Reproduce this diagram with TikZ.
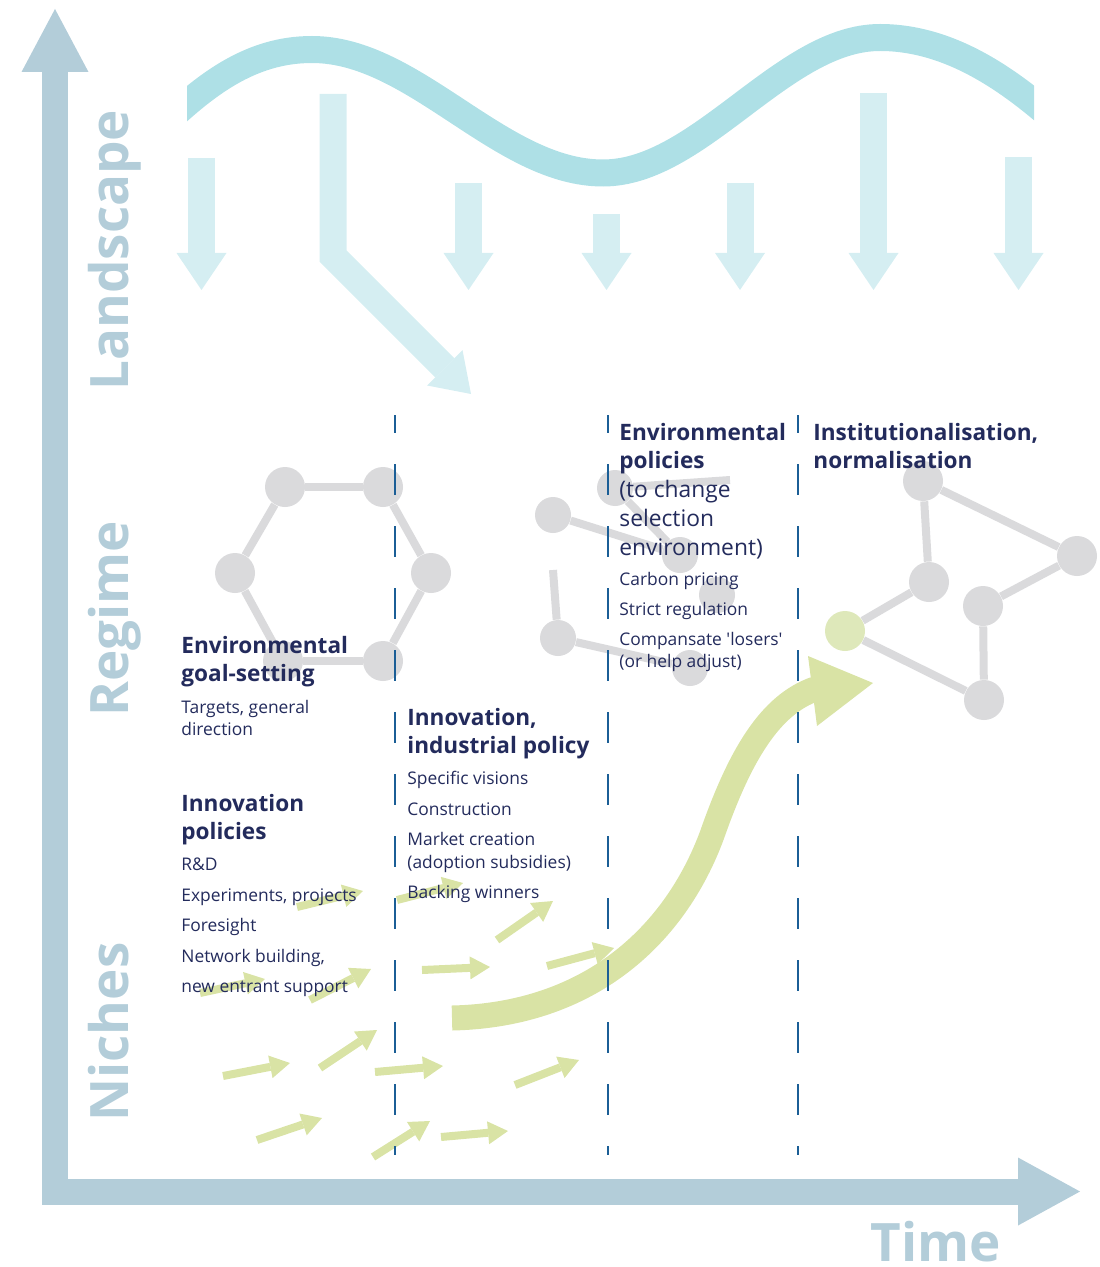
\documentclass[tikz,border=0pt]{standalone}
\usepackage{fontspec}
\setmainfont{Open Sans}
\usetikzlibrary{arrows.meta}
\definecolor{axiscol}{RGB}{179,205,217}
\definecolor{wavecol}{RGB}{174,224,230}
\definecolor{downcol}{RGB}{213,238,242}
\definecolor{netcol}{RGB}{218,218,220}
\definecolor{greencol}{RGB}{217,227,165}
\definecolor{greennode}{RGB}{222,232,186}
\definecolor{navy}{RGB}{35,43,92}
\definecolor{dashcol}{RGB}{27,94,150}
\begin{document}
\begin{tikzpicture}[x=0.5pt,y=-0.5pt,
  axisline/.style={draw=axiscol, line width=13pt},
  wave/.style={draw=wavecol, line width=13.5pt},
  downarrow/.style={draw=downcol, line width=13.5pt, line join=miter,
     -{Triangle[length=18.5pt,width=25pt,line width=0pt]}},
  netedge/.style={draw=netcol, line width=4pt},
  netnode/.style={circle, fill=netcol, minimum size=20pt, inner sep=0pt},
  smallnode/.style={circle, fill=netcol, minimum size=18pt, inner sep=0pt},
  garrow/.style={draw=greencol, line width=4pt,
     -{Triangle[length=10pt,width=11.5pt,line width=0pt]}},
  dashline/.style={draw=dashcol, line width=1pt, dash pattern=on 15.5pt off 15.5pt, dash phase=6.5pt},
  titletext/.style={anchor=base west, inner sep=0pt, text=navy,
     font=\fontsize{11.3}{14}\selectfont\bfseries},
  bodytext/.style={anchor=base west, inner sep=0pt, text=navy,
     font=\fontsize{8.7}{11}\selectfont},
  midtext/.style={anchor=base west, inner sep=0pt, text=navy,
     font=\fontsize{11.4}{14}\selectfont},
  biglabel/.style={anchor=base west, inner sep=0pt, text=axiscol,
     font=\fontsize{26.5}{30}\selectfont\bfseries}
]
\useasboundingbox (0,0) rectangle (1099,1267);

% ---------- axes ----------
\coordinate (vbot) at (55,1204.5);
\coordinate (vtop) at (55,9);
\coordinate (hleft) at (42,1191.5);
\coordinate (hright) at (1080,1191.5);
\draw[axisline, -{Triangle[length=31.5pt,width=33.5pt,line width=0pt]}] (vbot) -- (vtop);
\draw[axisline, -{Triangle[length=31pt,width=34pt,line width=0pt]}] (hleft) -- (hright);

% ---------- landscape wave ----------
\begin{scope}
  \clip (187,0) rectangle (1034,300);
  \draw[wave] (160,128) .. controls (205,85) and (250,49.5) .. (312,49.5)
     .. controls (415,49.5) and (500,173) .. (603,173)
     .. controls (700,173) and (783,37.5) .. (880,37.5)
     .. controls (950,37.5) and (1010,80) .. (1060,125);
\end{scope}

% ---------- landscape pressure arrows ----------
\coordinate (d1a) at (201.5,158);  \coordinate (d1b) at (201.5,290);
\coordinate (d3a) at (468.5,183);  \coordinate (d3b) at (468.5,290);
\coordinate (d4a) at (606.5,214);  \coordinate (d4b) at (606.5,290);
\coordinate (d5a) at (740,183);    \coordinate (d5b) at (740,290);
\coordinate (d6a) at (873.5,93);   \coordinate (d6b) at (873.5,290);
\coordinate (d7a) at (1018.5,157); \coordinate (d7b) at (1018.5,290);
\coordinate (bta) at (333,94); \coordinate (btb) at (333,256); \coordinate (btc) at (471,394);
\draw[downarrow] (d1a) -- (d1b);
\draw[downarrow] (d3a) -- (d3b);
\draw[downarrow] (d4a) -- (d4b);
\draw[downarrow] (d5a) -- (d5b);
\draw[downarrow] (d6a) -- (d6b);
\draw[downarrow] (d7a) -- (d7b);
\draw[downarrow] (bta) -- (btb) -- (btc);

% ---------- regime networks ----------
% hexagon
\node[netnode] (h1) at (285,487) {};
\node[netnode] (h2) at (383,487) {};
\node[netnode] (h3) at (431,573) {};
\node[netnode] (h4) at (383,661) {};
\node[netnode] (h5) at (283,661) {};
\node[netnode] (h6) at (235,573) {};
\draw[netedge] (h1) -- (h2);
\draw[netedge] (h2) -- (h3);
\draw[netedge] (h3) -- (h4);
\draw[netedge] (h4) -- (h5);
\draw[netedge] (h5) -- (h6);
\draw[netedge] (h6) -- (h1);
% broken middle network
\node[smallnode] (m1) at (615,488) {};
\node[smallnode] (m2) at (553,515) {};
\node[smallnode] (m3) at (680,555) {};
\node[smallnode] (m4) at (717,595) {};
\node[smallnode] (m5) at (558,638) {};
\node[smallnode] (m6) at (690,668) {};
\coordinate (ms1) at (730,480);
\coordinate (ms2) at (553,570);
\draw[netedge] (m1) -- (ms1);
\draw[netedge] (m1) -- (m3);
\draw[netedge] (m2) -- (m3);
\draw[netedge] (ms2) -- (m5);
\draw[netedge] (m5) -- (m6);
% new network
\node[netnode] (r1) at (923,481) {};
\node[netnode] (r2) at (1077,556) {};
\node[netnode] (r3) at (929,582) {};
\node[netnode] (r4) at (983,606) {};
\node[netnode, fill=greennode] (r5) at (845,631) {};
\node[netnode] (r6) at (984,700) {};
\draw[netedge] (r1) -- (r2);
\draw[netedge] (r1) -- (r3);
\draw[netedge] (r3) -- (r5);
\draw[netedge] (r5) -- (r6);
\draw[netedge] (r6) -- (r4);
\draw[netedge] (r4) -- (r2);

% ---------- niche arrows ----------
\draw[garrow] (297,907) -- (363,891);
\draw[garrow] (397,900) -- (463,883);
\draw[garrow] (497,940) -- (553,901);
\draw[garrow] (422,970) -- (490,967);
\draw[garrow] (547,966) -- (614,948);
\draw[garrow] (200,993) -- (265,979);
\draw[garrow] (310,1000) -- (371,969);
\draw[garrow] (223,1076) -- (290,1063);
\draw[garrow] (320,1068) -- (377,1030);
\draw[garrow] (375,1072) -- (443,1066);
\draw[garrow] (515,1085) -- (579,1060);
\draw[garrow] (257,1140) -- (322,1118);
\draw[garrow] (373,1157) -- (430,1121);
\draw[garrow] (441,1137) -- (508,1131);

% big S-curve arrow
\draw[draw=greencol, line width=12.5pt] (452,1018) .. controls (590,1015) and (675,935) .. (712,835)
   .. controls (740,755) and (770,705) .. (815,689);
\fill[greencol] (808,656) -- (873,683) -- (817,726) -- cycle;

% ---------- dashed phase separators ----------
\coordinate (s1t) at (395,415); \coordinate (s1b) at (395,1155);
\coordinate (s2t) at (608,415); \coordinate (s2b) at (608,1155);
\coordinate (s3t) at (798,415); \coordinate (s3b) at (798,1155);
\draw[dashline] (s1t) -- (s1b);
\draw[dashline] (s2t) -- (s2b);
\draw[dashline] (s3t) -- (s3b);

% ---------- axis labels ----------
\node[biglabel, rotate=90] (lland) at (128,391) {Landscape};
\node[biglabel, rotate=90] (lreg) at (128,717) {Regime};
\node[biglabel, rotate=90] (lnic) at (128,1122) {Niches};
\node[biglabel] (ltime) at (870,1261) {Time};

% ---------- column texts ----------
\node[titletext] (a1) at (181,653) {Environmental};
\node[titletext] (a2) at (181,681) {goal-setting};
\node[bodytext] (a3) at (181,713) {Targets, general};
\node[bodytext] (a4) at (181,735) {direction};

\node[titletext] (b1) at (181,811) {Innovation};
\node[titletext] (b2) at (181,839) {policies};
\node[bodytext] (b3) at (181,870) {R\&D};
\node[bodytext] (b4) at (181,901) {Experiments, projects};
\node[bodytext] (b5) at (181,931) {Foresight};
\node[bodytext] (b6) at (181,962) {Network building,};
\node[bodytext] (b7) at (181,992) {new entrant support};

\node[titletext] (c1) at (407,725) {Innovation,};
\node[titletext] (c2) at (407,753) {industrial policy};
\node[bodytext] (c3) at (407,784) {Specific visions};
\node[bodytext] (c4) at (407,815) {Construction};
\node[bodytext] (c5) at (407,845) {Market creation};
\node[bodytext] (c6) at (407,868) {(adoption subsidies)};
\node[bodytext] (c7) at (407,898) {Backing winners};

\node[titletext] (e1) at (619,440) {Environmental};
\node[titletext] (e2) at (619,468) {policies};
\node[midtext] (e3) at (619,497) {(to change};
\node[midtext] (e4) at (619,526) {selection};
\node[midtext] (e5) at (619,555) {environment)};
\node[bodytext] (e6) at (619,585) {Carbon pricing};
\node[bodytext] (e7) at (619,615) {Strict regulation};
\node[bodytext] (e8) at (619,645) {Compansate \textquotesingle losers\textquotesingle};
\node[bodytext] (e9) at (619,667) {(or help adjust)};

\node[titletext] (f1) at (813,440) {Institutionalisation,};
\node[titletext] (f2) at (813,468) {normalisation};
\end{tikzpicture}
\end{document}
